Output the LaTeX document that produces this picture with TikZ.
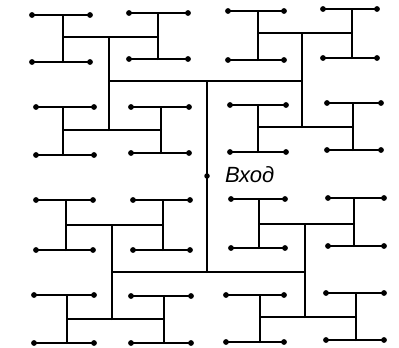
\documentclass[tikz,border=0pt]{standalone}
\usepackage{fontspec}
\newfontfamily\labelfont{Liberation Sans}
\tikzset{
  wire/.style={line width=2pt, line cap=round, black},
  leafdot/.style={fill=black},
  entrylabel/.style={font=\labelfont\itshape\fontsize{22}{22}\selectfont, anchor=base west, inner sep=0pt}
}
% H cell: name, vertical x, top y, bottom y, left x, right x
\newcommand\Hcell[6]{%
  \coordinate (#1tl) at (#5,#3); \coordinate (#1tr) at (#6,#3);
  \coordinate (#1bl) at (#5,#4); \coordinate (#1br) at (#6,#4);
  \coordinate (#1t) at (#2,#3);  \coordinate (#1b) at (#2,#4);
  \draw[wire] (#1tl) -- (#1tr) (#1bl) -- (#1br) (#1t) -- (#1b);
  \fill[leafdot] (#1tl) circle (2.9pt) (#1tr) circle (2.9pt)
                 (#1bl) circle (2.9pt) (#1br) circle (2.9pt);
}
\begin{document}
\begin{tikzpicture}[x=1pt,y=-1pt]
\useasboundingbox (0,0) rectangle (399,348);
% top-left quadrant
\Hcell{H1}{63}{15}{62}{32}{90}
\Hcell{H2}{158}{13}{59}{129}{188}
\Hcell{H3}{63}{107}{155}{36}{94}
\Hcell{H4}{161}{107}{153}{131}{189}
% top-right quadrant
\Hcell{H5}{258}{11}{60}{228}{284}
\Hcell{H6}{352}{9}{58}{323}{377}
\Hcell{H7}{258}{105}{152}{230}{286}
\Hcell{H8}{353}{103}{150}{327}{381}
% bottom-left quadrant
\Hcell{H9}{66}{200}{250}{36}{93}
\Hcell{H10}{163}{200}{250}{133}{190}
\Hcell{H11}{67}{295}{343}{34}{94}
\Hcell{H12}{164}{296}{343}{131}{191}
% bottom-right quadrant
\Hcell{H13}{259}{199}{248}{231}{285}
\Hcell{H14}{354}{198}{246}{328}{384}
\Hcell{H15}{260}{295}{342}{226}{284}
\Hcell{H16}{356}{293}{340}{326}{384}
% quadrant junctions
\coordinate (QaT) at (109,37);  \coordinate (QaB) at (109,130); \coordinate (QaM) at (109,81);
\coordinate (QbT) at (302,33);  \coordinate (QbB) at (302,127); \coordinate (QbM) at (302,81);
\coordinate (QcT) at (112,225); \coordinate (QcB) at (112,319); \coordinate (QcM) at (112,272);
\coordinate (QdT) at (305,224); \coordinate (QdB) at (305,317); \coordinate (QdM) at (305,272);
\draw[wire] (QaT -| H1t) -- (QaT -| H2t) (QaB -| H3t) -- (QaB -| H4t) (QaT) -- (QaB);
\draw[wire] (QbT -| H5t) -- (QbT -| H6t) (QbB -| H7t) -- (QbB -| H8t) (QbT) -- (QbB);
\draw[wire] (QcT -| H9t) -- (QcT -| H10t) (QcB -| H11t) -- (QcB -| H12t) (QcT) -- (QcB);
\draw[wire] (QdT -| H13t) -- (QdT -| H14t) (QdB -| H15t) -- (QdB -| H16t) (QdT) -- (QdB);
% centre trunk
\coordinate (CT) at (207,81); \coordinate (CB) at (207,272);
\draw[wire] (QaM) -- (QbM);
\draw[wire] (QcM) -- (QdM);
\draw[wire] (CT) -- (CB);
\node[circle, fill=black, inner sep=0pt, minimum size=5.5pt] (entry) at (207,176) {};
\node[entrylabel] (entrytext) at (225,182) {Вход};
\end{tikzpicture}
\end{document}
